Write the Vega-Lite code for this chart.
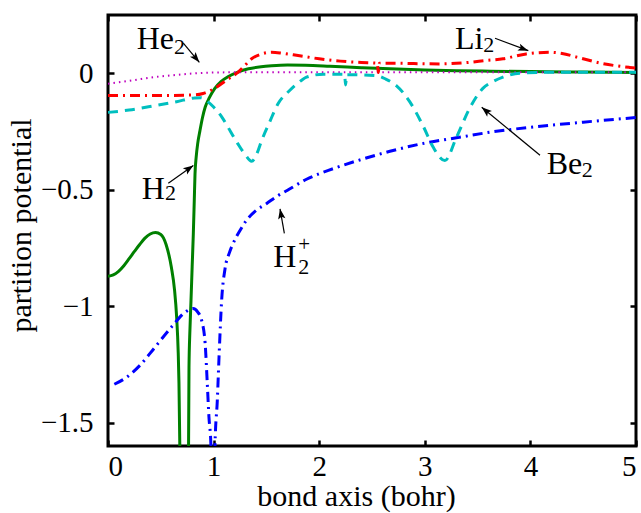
{
  "$schema": "https://vega.github.io/schema/vega-lite/v6.json",
  "width": 528,
  "height": 431,
  "autosize": {"type": "none"},
  "padding": {"left": 108, "top": 15, "right": 5, "bottom": 67},
  "background": "white",
  "config": {
    "view": {"stroke": "black", "strokeWidth": 3},
    "font": "Liberation Serif",
    "axis": {
      "domain": false,
      "grid": false,
      "tickColor": "black",
      "tickWidth": 2.5,
      "tickSize": -6,
      "labelFont": "Liberation Serif",
      "labelFontSize": 29,
      "labelColor": "black",
      "titleFont": "Liberation Serif",
      "titleFontSize": 30,
      "titleFontWeight": "normal",
      "titleColor": "black"
    }
  },
  "datasets": {
    "curves": [
      {"s": "H2", "x": 0, "y": -0.871}, {"s": "H2", "x": 0.05, "y": -0.865}, {"s": "H2", "x": 0.1, "y": -0.85},
      {"s": "H2", "x": 0.15, "y": -0.826}, {"s": "H2", "x": 0.2, "y": -0.796}, {"s": "H2", "x": 0.25, "y": -0.765},
      {"s": "H2", "x": 0.3, "y": -0.735}, {"s": "H2", "x": 0.35, "y": -0.708}, {"s": "H2", "x": 0.4, "y": -0.69},
      {"s": "H2", "x": 0.45, "y": -0.684}, {"s": "H2", "x": 0.5, "y": -0.692}, {"s": "H2", "x": 0.55, "y": -0.735},
      {"s": "H2", "x": 0.6, "y": -0.833}, {"s": "H2", "x": 0.63, "y": -0.93}, {"s": "H2", "x": 0.65, "y": -1.047},
      {"s": "H2", "x": 0.665, "y": -1.2}, {"s": "H2", "x": 0.672, "y": -1.33}, {"s": "H2", "x": 0.68, "y": -1.6},
      {"s": "H2", "x": 0.69, "y": -2.2}, {"s": "H2", "x": 0.7, "y": -3.5}, {"s": "H2", "x": 0.75, "y": -3.5},
      {"s": "H2", "x": 0.758, "y": -2.0}, {"s": "H2", "x": 0.767, "y": -1.262}, {"s": "H2", "x": 0.776, "y": -1.1},
      {"s": "H2", "x": 0.786, "y": -0.975}, {"s": "H2", "x": 0.797, "y": -0.83}, {"s": "H2", "x": 0.808, "y": -0.689},
      {"s": "H2", "x": 0.817, "y": -0.546}, {"s": "H2", "x": 0.824, "y": -0.432}, {"s": "H2", "x": 0.835, "y": -0.36},
      {"s": "H2", "x": 0.85, "y": -0.3}, {"s": "H2", "x": 0.871, "y": -0.246}, {"s": "H2", "x": 0.895, "y": -0.19},
      {"s": "H2", "x": 0.92, "y": -0.146}, {"s": "H2", "x": 0.96, "y": -0.105}, {"s": "H2", "x": 1.01, "y": -0.066},
      {"s": "H2", "x": 1.07, "y": -0.036}, {"s": "H2", "x": 1.14, "y": -0.014}, {"s": "H2", "x": 1.23, "y": 0.005},
      {"s": "H2", "x": 1.33, "y": 0.019}, {"s": "H2", "x": 1.45, "y": 0.028}, {"s": "H2", "x": 1.55, "y": 0.032},
      {"s": "H2", "x": 1.7, "y": 0.035}, {"s": "H2", "x": 1.87, "y": 0.034}, {"s": "H2", "x": 2.1, "y": 0.03},
      {"s": "H2", "x": 2.4, "y": 0.024}, {"s": "H2", "x": 2.67, "y": 0.019}, {"s": "H2", "x": 3.0, "y": 0.014},
      {"s": "H2", "x": 3.3, "y": 0.011}, {"s": "H2", "x": 3.62, "y": 0.009}, {"s": "H2", "x": 4.0, "y": 0.007},
      {"s": "H2", "x": 4.5, "y": 0.005}, {"s": "H2", "x": 5.0, "y": 0.003},

      {"s": "H2+", "x": 0.06, "y": -1.335}, {"s": "H2+", "x": 0.16, "y": -1.31}, {"s": "H2+", "x": 0.3, "y": -1.255},
      {"s": "H2+", "x": 0.445, "y": -1.176}, {"s": "H2+", "x": 0.6, "y": -1.09}, {"s": "H2+", "x": 0.745, "y": -1.021},
      {"s": "H2+", "x": 0.805, "y": -1.01}, {"s": "H2+", "x": 0.85, "y": -1.025}, {"s": "H2+", "x": 0.887, "y": -1.061},
      {"s": "H2+", "x": 0.92, "y": -1.16}, {"s": "H2+", "x": 0.94, "y": -1.33}, {"s": "H2+", "x": 0.956, "y": -1.476},
      {"s": "H2+", "x": 0.975, "y": -1.6}, {"s": "H2+", "x": 0.985, "y": -2.5}, {"s": "H2+", "x": 0.995, "y": -4},
      {"s": "H2+", "x": 1.005, "y": -4}, {"s": "H2+", "x": 1.008, "y": -2.5}, {"s": "H2+", "x": 1.013, "y": -1.6},
      {"s": "H2+", "x": 1.035, "y": -1.405}, {"s": "H2+", "x": 1.054, "y": -1.19}, {"s": "H2+", "x": 1.076, "y": -0.976},
      {"s": "H2+", "x": 1.108, "y": -0.84}, {"s": "H2+", "x": 1.15, "y": -0.77}, {"s": "H2+", "x": 1.19, "y": -0.725},
      {"s": "H2+", "x": 1.25, "y": -0.675}, {"s": "H2+", "x": 1.31, "y": -0.632}, {"s": "H2+", "x": 1.4, "y": -0.59},
      {"s": "H2+", "x": 1.5, "y": -0.56}, {"s": "H2+", "x": 1.6, "y": -0.528}, {"s": "H2+", "x": 1.7, "y": -0.502},
      {"s": "H2+", "x": 1.88, "y": -0.455}, {"s": "H2+", "x": 2.13, "y": -0.41}, {"s": "H2+", "x": 2.4, "y": -0.37},
      {"s": "H2+", "x": 2.67, "y": -0.335}, {"s": "H2+", "x": 3.0, "y": -0.3}, {"s": "H2+", "x": 3.3, "y": -0.277},
      {"s": "H2+", "x": 3.62, "y": -0.253}, {"s": "H2+", "x": 4.0, "y": -0.232}, {"s": "H2+", "x": 4.5, "y": -0.21},
      {"s": "H2+", "x": 5.0, "y": -0.19},

      {"s": "He2", "x": 0, "y": -0.045}, {"s": "He2", "x": 0.15, "y": -0.036}, {"s": "He2", "x": 0.28, "y": -0.027},
      {"s": "He2", "x": 0.45, "y": -0.016}, {"s": "He2", "x": 0.6, "y": -0.009}, {"s": "He2", "x": 0.75, "y": -0.003},
      {"s": "He2", "x": 0.92, "y": 0.002}, {"s": "He2", "x": 1.2, "y": 0.004}, {"s": "He2", "x": 5.0, "y": 0.004},

      {"s": "Li2", "x": 0, "y": -0.096}, {"s": "Li2", "x": 0.4, "y": -0.096}, {"s": "Li2", "x": 0.82, "y": -0.093},
      {"s": "Li2", "x": 0.9, "y": -0.087}, {"s": "Li2", "x": 1.01, "y": -0.065}, {"s": "Li2", "x": 1.12, "y": -0.03},
      {"s": "Li2", "x": 1.23, "y": 0.004}, {"s": "Li2", "x": 1.3, "y": 0.035}, {"s": "Li2", "x": 1.36, "y": 0.062},
      {"s": "Li2", "x": 1.45, "y": 0.082}, {"s": "Li2", "x": 1.55, "y": 0.09}, {"s": "Li2", "x": 1.65, "y": 0.086},
      {"s": "Li2", "x": 1.8, "y": 0.076}, {"s": "Li2", "x": 2.0, "y": 0.062}, {"s": "Li2", "x": 2.2, "y": 0.052},
      {"s": "Li2", "x": 2.4, "y": 0.046}, {"s": "Li2", "x": 2.55, "y": 0.043}, {"s": "Li2", "x": 2.56, "y": 0.003},
      {"s": "Li2", "x": 2.57, "y": 0.043}, {"s": "Li2", "x": 2.67, "y": 0.043}, {"s": "Li2", "x": 3.14, "y": 0.04},
      {"s": "Li2", "x": 3.35, "y": 0.044}, {"s": "Li2", "x": 3.59, "y": 0.055}, {"s": "Li2", "x": 3.74, "y": 0.062},
      {"s": "Li2", "x": 3.96, "y": 0.083}, {"s": "Li2", "x": 4.19, "y": 0.09}, {"s": "Li2", "x": 4.3, "y": 0.085},
      {"s": "Li2", "x": 4.44, "y": 0.069}, {"s": "Li2", "x": 4.69, "y": 0.041}, {"s": "Li2", "x": 4.94, "y": 0.025},
      {"s": "Li2", "x": 5.0, "y": 0.022},

      {"s": "Be2", "x": 0, "y": -0.168}, {"s": "Be2", "x": 0.2, "y": -0.158}, {"s": "Be2", "x": 0.445, "y": -0.139},
      {"s": "Be2", "x": 0.65, "y": -0.122}, {"s": "Be2", "x": 0.82, "y": -0.106}, {"s": "Be2", "x": 0.88, "y": -0.105},
      {"s": "Be2", "x": 0.95, "y": -0.124}, {"s": "Be2", "x": 1.0, "y": -0.145}, {"s": "Be2", "x": 1.08, "y": -0.189},
      {"s": "Be2", "x": 1.16, "y": -0.25}, {"s": "Be2", "x": 1.23, "y": -0.303}, {"s": "Be2", "x": 1.3, "y": -0.35},
      {"s": "Be2", "x": 1.36, "y": -0.378}, {"s": "Be2", "x": 1.41, "y": -0.345}, {"s": "Be2", "x": 1.455, "y": -0.289},
      {"s": "Be2", "x": 1.53, "y": -0.21}, {"s": "Be2", "x": 1.61, "y": -0.131}, {"s": "Be2", "x": 1.72, "y": -0.074},
      {"s": "Be2", "x": 1.83, "y": -0.031}, {"s": "Be2", "x": 1.88, "y": -0.017}, {"s": "Be2", "x": 2.04, "y": -0.004},
      {"s": "Be2", "x": 2.24, "y": -0.004}, {"s": "Be2", "x": 2.25, "y": -0.05}, {"s": "Be2", "x": 2.26, "y": -0.006},
      {"s": "Be2", "x": 2.54, "y": -0.01}, {"s": "Be2", "x": 2.63, "y": -0.025}, {"s": "Be2", "x": 2.73, "y": -0.053},
      {"s": "Be2", "x": 2.86, "y": -0.124}, {"s": "Be2", "x": 2.99, "y": -0.232}, {"s": "Be2", "x": 3.08, "y": -0.318},
      {"s": "Be2", "x": 3.19, "y": -0.375}, {"s": "Be2", "x": 3.3, "y": -0.275}, {"s": "Be2", "x": 3.43, "y": -0.146},
      {"s": "Be2", "x": 3.55, "y": -0.065}, {"s": "Be2", "x": 3.65, "y": -0.035}, {"s": "Be2", "x": 3.74, "y": -0.017},
      {"s": "Be2", "x": 3.9, "y": 0.0}, {"s": "Be2", "x": 4.2, "y": 0.004}, {"s": "Be2", "x": 5.0, "y": 0.004}
    ],
    "arrows": [
      {"name": "He2", "x": 0.713, "y": 0.129, "x2": 0.865, "y2": 0.047},
      {"name": "Li2", "x": 3.665, "y": 0.15, "x2": 3.98, "y2": 0.097},
      {"name": "Be2", "x": 4.091, "y": -0.352, "x2": 3.539, "y2": -0.146},
      {"name": "H2", "x": 0.571, "y": -0.472, "x2": 0.808, "y2": -0.396},
      {"name": "H2+", "x": 1.67, "y": -0.687, "x2": 1.629, "y2": -0.582}
    ],
    "labels": [
      {"k": "base", "t": "He", "x": 0.272, "y": 0.102},
      {"k": "sub", "t": "2", "x": 0.625, "y": 0.0845},
      {"k": "base", "t": "Li", "x": 3.286, "y": 0.1047},
      {"k": "sub", "t": "2", "x": 3.554, "y": 0.09},
      {"k": "base", "t": "Be", "x": 4.154, "y": -0.4318},
      {"k": "sub", "t": "2", "x": 4.486, "y": -0.446},
      {"k": "base", "t": "H", "x": 0.319, "y": -0.539},
      {"k": "sub", "t": "2", "x": 0.54, "y": -0.546},
      {"k": "base", "t": "H", "x": 1.565, "y": -0.833},
      {"k": "sub", "t": "2", "x": 1.802, "y": -0.861},
      {"k": "sup", "t": "+", "x": 1.858, "y": -0.764}
    ]
  },
  "layer": [
    {
      "data": {"name": "curves"},
      "encoding": {
        "x": {
          "field": "x", "type": "quantitative",
          "scale": {"domain": [0, 5], "nice": false, "zero": false},
          "axis": {
            "values": [0, 1, 2, 3, 4, 5], "format": "d", "title": "bond axis (bohr)",
            "labelPadding": 12, "titleFontSize": 30, "titleBaseline": "alphabetic", "titleX": 248, "titleY": 59
          }
        },
        "y": {
          "field": "y", "type": "quantitative",
          "scale": {"domain": [-1.6, 0.25], "nice": false, "zero": false},
          "axis": {"values": [-1.5, -1, -0.5, 0], "format": "~g", "title": "partition potential", "labelPadding": 21, "titlePadding": 4, "titleY": 210}
        }
      },
      "layer": [
        {
          "transform": [{"filter": "datum.s == 'H2'"}],
          "mark": {"type": "line", "clip": true, "color": "#008000", "strokeWidth": 3, "interpolate": "monotone"}
        },
        {
          "transform": [{"filter": "datum.s == 'H2+'"}],
          "mark": {"type": "line", "clip": true, "color": "#0000ff", "strokeWidth": 3, "strokeDash": [10, 5, 2, 5], "interpolate": "monotone"}
        },
        {
          "transform": [{"filter": "datum.s == 'He2'"}],
          "mark": {"type": "line", "clip": true, "color": "#bf00bf", "strokeWidth": 2, "strokeDash": [1.5, 4], "interpolate": "monotone"}
        },
        {
          "transform": [{"filter": "datum.s == 'Li2'"}],
          "mark": {"type": "line", "clip": true, "color": "#ff0000", "strokeWidth": 3, "strokeDash": [10, 5, 2, 5], "interpolate": "monotone"}
        },
        {
          "transform": [{"filter": "datum.s == 'Be2'"}],
          "mark": {"type": "line", "clip": true, "color": "#00bfbf", "strokeWidth": 3, "strokeDash": [10, 7], "interpolate": "monotone"}
        },
        {
          "data": {"name": "arrows"},
          "mark": {"type": "rule", "color": "black", "strokeWidth": 1.2},
          "encoding": {"x2": {"field": "x2"}, "y2": {"field": "y2"}}
        },
        {
          "data": {"name": "arrows"},
          "mark": {"type": "point", "shape": "M0,0L0.36,1L0,0.78L-0.36,1Z", "filled": true, "color": "black", "opacity": 1, "size": 420},
          "encoding": {
            "x": {"field": "x2", "type": "quantitative"},
            "y": {"field": "y2", "type": "quantitative"},
            "angle": {
              "field": "name", "type": "nominal",
              "scale": {"type": "ordinal", "domain": ["He2", "Li2", "Be2", "H2", "H2+"], "range": [140, 110, -50, 55, -10]},
              "legend": null
            }
          }
        },
        {
          "data": {"name": "labels"},
          "transform": [{"filter": "datum.k == 'base'"}],
          "mark": {"type": "text", "font": "Liberation Serif", "fontSize": 32, "align": "left", "baseline": "alphabetic", "color": "black"},
          "encoding": {"text": {"field": "t"}}
        },
        {
          "data": {"name": "labels"},
          "transform": [{"filter": "datum.k == 'sub'"}],
          "mark": {"type": "text", "font": "Liberation Serif", "fontSize": 22, "align": "left", "baseline": "alphabetic", "color": "black"},
          "encoding": {"text": {"field": "t"}}
        },
        {
          "data": {"name": "labels"},
          "transform": [{"filter": "datum.k == 'sup'"}],
          "mark": {"type": "text", "font": "Liberation Serif", "fontSize": 21, "align": "center", "baseline": "alphabetic", "color": "black"},
          "encoding": {"text": {"field": "t"}}
        }
      ]
    },
    {
      "data": {"name": "curves"},
      "mark": {"type": "point", "opacity": 0},
      "encoding": {
        "x": {"field": "x", "type": "quantitative", "axis": {"orient": "top", "values": [0, 1, 2, 3, 4, 5], "labels": false, "title": null}},
        "y": {"field": "y", "type": "quantitative", "axis": {"orient": "right", "values": [-1.5, -1, -0.5, 0], "labels": false, "title": null}}
      }
    }
  ],
  "resolve": {"axis": {"x": "independent", "y": "independent"}}
}
